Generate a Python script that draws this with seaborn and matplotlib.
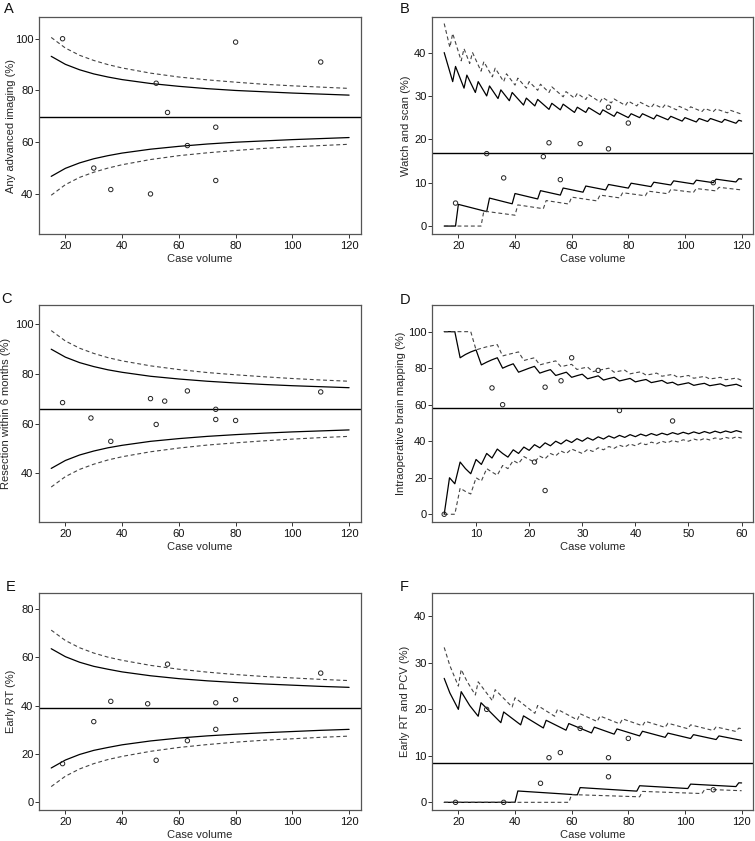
import numpy as np
import matplotlib
matplotlib.use("Agg")
import matplotlib.pyplot as plt
import seaborn as sns

sns.set_theme(style="ticks")
plt.rcParams["font.family"] = ["Liberation Sans", "DejaVu Sans"]

# ---------------- data ----------------
# case volumes where the smooth (normal approx.) limits were read
grid = [15, 20, 25, 30, 35, 40, 50, 60, 70, 80, 90, 100, 110, 120]

# A: any advanced imaging
a_target = 69.9
a_up95 = [93.2, 90.1, 88.0, 86.4, 85.2, 84.2, 82.7, 81.6, 80.7, 80.0, 79.5, 79.0, 78.6, 78.2]
a_lo95 = [46.8, 49.9, 52.0, 53.6, 54.8, 55.8, 57.3, 58.4, 59.3, 60.0, 60.5, 61.0, 61.4, 61.8]
a_up99 = [100.5, 96.4, 93.6, 91.6, 90.0, 88.7, 86.7, 85.2, 84.1, 83.2, 82.4, 81.8, 81.3, 80.8]
a_lo99 = [39.5, 43.6, 46.4, 48.4, 50.0, 51.3, 53.3, 54.8, 55.9, 56.8, 57.6, 58.2, 58.7, 59.2]
a_vol = [19, 30, 36, 50, 52, 56, 63, 73, 73, 80, 110]
a_pct = [100, 50.0, 41.7, 40.0, 82.8, 71.5, 58.7, 65.8, 45.2, 98.7, 91.0]

# C: resection within 6 months
c_target = 66.0
c_up95 = [90.0, 86.8, 84.6, 83.0, 81.7, 80.7, 79.1, 78.0, 77.1, 76.4, 75.8, 75.3, 74.9, 74.5]
c_lo95 = [42.0, 45.2, 47.4, 49.0, 50.3, 51.3, 52.9, 54.0, 54.9, 55.6, 56.2, 56.7, 57.1, 57.5]
c_up99 = [97.5, 93.3, 90.4, 88.3, 86.6, 85.3, 83.3, 81.8, 80.6, 79.7, 78.9, 78.2, 77.6, 77.1]
c_lo99 = [34.5, 38.7, 41.6, 43.7, 45.4, 46.7, 48.7, 50.2, 51.4, 52.3, 53.1, 53.8, 54.4, 54.9]
c_vol = [19, 29, 36, 50, 52, 55, 63, 73, 73, 80, 110]
c_pct = [68.5, 62.3, 52.9, 70.1, 59.7, 69.1, 73.2, 65.8, 61.7, 61.3, 72.8]

# E: early RT
e_target = 38.9
e_up95 = [63.6, 60.3, 58.0, 56.3, 55.1, 54.0, 52.4, 51.2, 50.3, 49.6, 49.0, 48.5, 48.0, 47.6]
e_lo95 = [14.2, 17.5, 19.8, 21.5, 22.7, 23.8, 25.4, 26.6, 27.5, 28.2, 28.8, 29.3, 29.8, 30.2]
e_up99 = [71.3, 67.0, 64.0, 61.8, 60.1, 58.8, 56.7, 55.1, 53.9, 52.9, 52.1, 51.5, 50.9, 50.4]
e_lo99 = [6.5, 10.8, 13.8, 16.0, 17.7, 19.0, 21.1, 22.7, 23.9, 24.9, 25.7, 26.3, 26.9, 27.4]
e_vol = [19, 30, 36, 49, 52, 56, 63, 73, 73, 80, 110]
e_pct = [16.0, 33.4, 41.8, 40.8, 17.4, 57.2, 25.5, 41.2, 30.2, 42.5, 53.5]

# B: watch and scan (exact binomial limits, vertices of the saw teeth)
b_target = 16.9
b_up95_x = [15, 18, 19, 22, 23, 26, 27, 30, 31, 34, 35, 38, 39, 43, 44, 47, 48, 52, 53, 56,
            57, 61, 62, 65, 66, 70, 71, 75, 76, 80, 81, 84, 85, 89, 90, 94, 95, 99, 100, 104,
            105, 108, 109, 113, 114, 118, 119, 120]
b_up95_y = [40.0, 33.3, 36.8, 31.8, 34.8, 30.8, 33.3, 30.0, 32.3, 29.4, 31.4, 28.9, 30.8, 27.9,
            29.5, 27.7, 29.2, 26.9, 28.3, 26.8, 28.1, 26.2, 27.4, 26.2, 27.3, 25.7, 26.8, 25.3,
            26.3, 25.0, 25.9, 25.0, 25.9, 24.7, 25.6, 24.5, 25.3, 24.2, 25.0, 24.0, 24.8, 24.1,
            24.8, 23.9, 24.6, 23.7, 24.4, 24.2]
b_up99_x = [15, 17, 18, 21, 22, 24, 25, 28, 29, 32, 33, 36, 37, 40, 41, 44, 45, 48, 49, 52,
            53, 57, 58, 61, 62, 65, 66, 70, 71, 74, 75, 79, 80, 83, 84, 88, 89, 92, 93, 97,
            98, 101, 102, 106, 107, 110, 111, 115, 116, 120]
b_up99_y = [46.7, 41.2, 44.4, 38.1, 40.9, 37.5, 40.0, 35.7, 37.9, 34.4, 36.4, 33.3, 35.1, 32.5,
            34.1, 31.8, 33.3, 31.3, 32.7, 30.8, 32.1, 29.8, 31.0, 29.5, 30.6, 29.2, 30.3, 28.6,
            29.6, 28.4, 29.3, 27.8, 28.8, 27.7, 28.6, 27.3, 28.1, 27.2, 28.0, 26.8, 27.6, 26.7,
            27.5, 26.4, 27.1, 26.4, 27.0, 26.1, 26.7, 25.8]
b_lo95_x = [15, 19, 20, 30, 31, 39, 40, 48, 49, 56, 57, 64, 65, 72, 73, 80, 81, 88, 89, 95,
            96, 103, 104, 110, 111, 118, 119, 120]
b_lo95_y = [0, 0, 5.0, 3.33, 6.45, 5.13, 7.5, 6.25, 8.16, 7.14, 8.77, 7.81, 9.23, 8.33, 9.59,
            8.75, 9.88, 9.09, 10.11, 9.47, 10.42, 9.71, 10.58, 10.0, 10.81, 10.17, 10.92, 10.83]
b_lo99_x = [15, 28, 29, 40, 41, 50, 51, 59, 60, 69, 70, 77, 78, 86, 87, 94, 95, 103, 104, 111,
            112, 120]
b_lo99_y = [0, 0, 3.45, 2.5, 4.88, 4.0, 5.88, 5.08, 6.67, 5.80, 7.14, 6.49, 7.69, 6.98, 8.05,
            7.45, 8.42, 7.77, 8.65, 8.11, 8.93, 8.33]
b_vol = [19, 30, 36, 50, 52, 56, 63, 73, 73, 80, 110]
b_pct = [5.3, 16.7, 11.1, 16.0, 19.2, 10.7, 19.0, 27.4, 17.8, 23.75, 10.0]

# D: intraoperative brain mapping (limits at every case volume 4..60)
d_target = 58.2
d_n = list(range(4, 61))
d_up95 = [100, 100, 100, 85.7, 87.5, 88.9, 90.0, 81.8, 83.3, 84.6, 85.7, 80.0, 81.3, 82.4,
          77.8, 78.9, 80.0, 81.0, 77.3, 78.3, 79.2, 76.0, 76.9, 77.8, 75.0, 75.9, 76.7, 74.2,
          75.0, 75.8, 73.5, 74.3, 75.0, 73.0, 73.7, 74.4, 72.5, 73.2, 73.8, 72.1, 72.7, 73.3,
          71.7, 72.3, 70.8, 71.4, 72.0, 70.6, 71.2, 71.7, 70.4, 70.9, 71.4, 70.2, 70.7, 71.2, 70.0]
d_up99 = [100, 100, 100, 100, 100, 100, 90.0, 90.9, 91.7, 92.3, 92.9, 86.7, 87.5, 88.2, 88.9,
          84.2, 85.0, 85.7, 81.8, 82.6, 83.3, 84.0, 80.8, 81.5, 82.1, 79.3, 80.0, 80.6, 78.1,
          78.8, 79.4, 80.0, 77.8, 78.4, 78.9, 76.9, 77.5, 78.0, 76.2, 76.7, 77.3, 75.6, 76.1,
          76.6, 75.0, 75.5, 76.0, 74.5, 75.0, 75.5, 74.1, 74.5, 75.0, 73.7, 74.1, 74.6, 73.3]
d_lo95 = [0, 20.0, 16.7, 28.6, 25.0, 22.2, 30.0, 27.3, 33.3, 30.8, 35.7, 33.3, 31.3, 35.3,
          33.3, 36.8, 35.0, 38.1, 36.4, 39.1, 37.5, 40.0, 38.5, 40.7, 39.3, 41.4, 40.0, 41.9,
          40.6, 42.4, 41.2, 42.9, 41.7, 43.2, 42.1, 43.6, 42.5, 43.9, 42.9, 44.2, 43.2, 44.4,
          43.5, 44.7, 43.8, 44.9, 44.0, 45.1, 44.2, 45.3, 44.4, 45.5, 44.6, 45.6, 44.8, 45.8, 45.0]
d_lo99 = [0, 0, 0, 14.3, 12.5, 11.1, 20.0, 18.2, 25.0, 23.1, 21.4, 26.7, 25.0, 29.4, 27.8,
          31.6, 30.0, 28.6, 31.8, 30.4, 33.3, 32.0, 34.6, 33.3, 35.7, 34.5, 33.3, 35.5, 34.4,
          36.4, 35.3, 37.1, 36.1, 37.8, 36.8, 38.5, 37.5, 39.0, 38.1, 39.5, 38.6, 40.0, 39.1,
          40.4, 39.6, 40.8, 40.0, 41.2, 40.4, 41.5, 40.7, 41.8, 41.1, 42.1, 41.4, 42.4, 41.7]
d_vol = [4, 13, 15, 21, 23, 23, 26, 28, 33, 37, 47]
d_pct = [0, 69.2, 60.0, 28.6, 69.6, 13.0, 73.1, 85.7, 78.8, 56.8, 51.1]

# F: early RT and PCV
f_target = 8.5
f_up95_x = [15, 17, 20, 21, 24, 27, 28, 35, 36, 42, 43, 50, 51, 58, 59, 67, 68, 75, 76, 84,
            85, 93, 94, 102, 103, 111, 112, 120]
f_up95_y = [26.67, 23.53, 20.0, 23.81, 20.83, 18.52, 21.43, 17.14, 19.44, 16.67, 18.60, 16.0,
            17.65, 15.52, 16.95, 14.93, 16.18, 14.67, 15.79, 14.29, 15.29, 13.98, 14.89, 13.73,
            14.56, 13.51, 14.29, 13.33]
f_up99_x = [15, 17, 20, 21, 23, 26, 27, 32, 33, 39, 40, 47, 48, 54, 55, 62, 63, 69, 70, 77,
            78, 85, 86, 93, 94, 101, 102, 110, 111, 118, 119, 120]
f_up99_y = [33.33, 29.41, 25.0, 28.57, 26.09, 23.08, 25.93, 21.88, 24.24, 20.51, 22.5, 19.15,
            20.83, 18.52, 20.0, 17.74, 19.05, 17.39, 18.57, 16.88, 17.95, 16.47, 17.44, 16.13,
            17.02, 15.84, 16.67, 15.45, 16.22, 15.25, 15.97, 15.83]
f_lo95_x = [15, 40, 41, 62, 63, 83, 84, 101, 102, 118, 119, 120]
f_lo95_y = [0, 0, 2.44, 1.61, 3.17, 2.41, 3.57, 2.97, 3.92, 3.39, 4.20, 4.17]
f_lo99_x = [15, 59, 60, 84, 85, 106, 107, 120]
f_lo99_y = [0, 0, 1.67, 1.19, 2.35, 1.89, 2.80, 2.50]
f_vol = [19, 30, 36, 49, 52, 56, 63, 73, 73, 80, 110]
f_pct = [0, 20.0, 0, 4.1, 9.6, 10.7, 15.9, 9.6, 5.5, 13.75, 2.7]

# ---------------- drawing ----------------
W, H = 755, 841
fig = plt.figure(figsize=(W / 100, H / 100), dpi=100)
fig.patch.set_facecolor("white")

SOLID = dict(color="black", linewidth=0.9, linestyle="-")
DOTTED = dict(color="#444444", linewidth=0.8, linestyle=(0, (3.5, 2.5)))


def make_axes(left, top, right, bottom):
    return fig.add_axes([left / W, 1 - bottom / H, (right - left) / W, (bottom - top) / H])


def draw_panel(ax, lines, target, vol, pct, xlim, ylim, xticks, yticks, ylabel, ylab_x):
    for xs, ys, kw in lines:
        sns.lineplot(x=xs, y=ys, ax=ax, estimator=None, sort=False, **kw)
    ax.axhline(target, color="black", linewidth=1.0)
    sns.scatterplot(x=vol, y=pct, ax=ax, s=10, marker="o", facecolors="none",
                    edgecolor="#222222", linewidth=0.7, zorder=4)
    ax.set_xlim(*xlim)
    ax.set_ylim(*ylim)
    ax.set_xticks(xticks)
    ax.set_yticks(yticks)
    ax.set_xlabel("Case volume", fontsize=8)
    ax.set_ylabel(ylabel, fontsize=8)
    ax.xaxis.set_label_coords(0.5, -0.115)
    ax.xaxis.label.set_va("center")
    ax.yaxis.set_label_coords(ylab_x, 0.5)
    ax.yaxis.label.set_va("center")
    ax.tick_params(axis="both", length=3.2, width=0.7, color="#333333",
                   labelsize=8, labelcolor="#111111")
    ax.tick_params(axis="x", pad=1.5)
    ax.tick_params(axis="y", pad=1.0)
    for sp in ax.spines.values():
        sp.set_visible(True)
        sp.set_color("#555555")
        sp.set_linewidth(0.9)
    ax.set_facecolor("white")
    ax.grid(False)


xl = (10.8, 124.2)
xt = [20, 40, 60, 80, 100, 120]

ax_a = make_axes(39.3, 17, 361, 234.3)
draw_panel(ax_a, [(grid, a_up95, SOLID), (grid, a_lo95, SOLID),
                  (grid, a_up99, DOTTED), (grid, a_lo99, DOTTED)],
           a_target, a_vol, a_pct, xl, (24.4, 108.4), xt, [40, 60, 80, 100],
           "Any advanced imaging (%)", -0.088)

ax_b = make_axes(432.3, 17, 753.5, 234.3)
draw_panel(ax_b, [(b_up95_x, b_up95_y, SOLID), (b_lo95_x, b_lo95_y, SOLID),
                  (b_up99_x, b_up99_y, DOTTED), (b_lo99_x, b_lo99_y, DOTTED)],
           b_target, b_vol, b_pct, xl, (-1.9, 48.2), xt, [0, 10, 20, 30, 40],
           "Watch and scan (%)", -0.081)

ax_c = make_axes(39.3, 305, 361, 522.3)
draw_panel(ax_c, [(grid, c_up95, SOLID), (grid, c_lo95, SOLID),
                  (grid, c_up99, DOTTED), (grid, c_lo99, DOTTED)],
           c_target, c_vol, c_pct, xl, (20.3, 107.8), xt, [40, 60, 80, 100],
           "Resection within 6 months (%)", -0.103)

ax_d = make_axes(432.3, 305, 753.5, 522.3)
draw_panel(ax_d, [(d_n, d_up95, SOLID), (d_n, d_lo95, SOLID),
                  (d_n, d_up99, DOTTED), (d_n, d_lo99, DOTTED)],
           d_target, d_vol, d_pct, (1.76, 62.24), (-4.4, 114.6),
           [10, 20, 30, 40, 50, 60], [0, 20, 40, 60, 80, 100],
           "Intraoperative brain mapping (%)", -0.098)

ax_e = make_axes(39.3, 592.7, 361, 810)
draw_panel(ax_e, [(grid, e_up95, SOLID), (grid, e_lo95, SOLID),
                  (grid, e_up99, DOTTED), (grid, e_lo99, DOTTED)],
           e_target, e_vol, e_pct, xl, (-3.2, 86.8), xt, [0, 20, 40, 60, 80],
           "Early RT (%)", -0.088)

ax_f = make_axes(432.3, 592.7, 753.5, 810)
draw_panel(ax_f, [(f_up95_x, f_up95_y, SOLID), (f_lo95_x, f_lo95_y, SOLID),
                  (f_up99_x, f_up99_y, DOTTED), (f_lo99_x, f_lo99_y, DOTTED)],
           f_target, f_vol, f_pct, xl, (-1.65, 45.1), xt, [0, 10, 20, 30, 40],
           "Early RT and PCV (%)", -0.086)

# panel letters
for letter, x, y in [("A", 4, 13), ("B", 400, 13), ("C", 1, 303),
                     ("D", 400, 304), ("E", 6, 591), ("F", 400, 591)]:
    fig.text(x / W, 1 - y / H, letter, fontsize=10.5, ha="left", va="baseline", color="#111111")

fig.savefig("out.png", dpi=100, facecolor="white")
